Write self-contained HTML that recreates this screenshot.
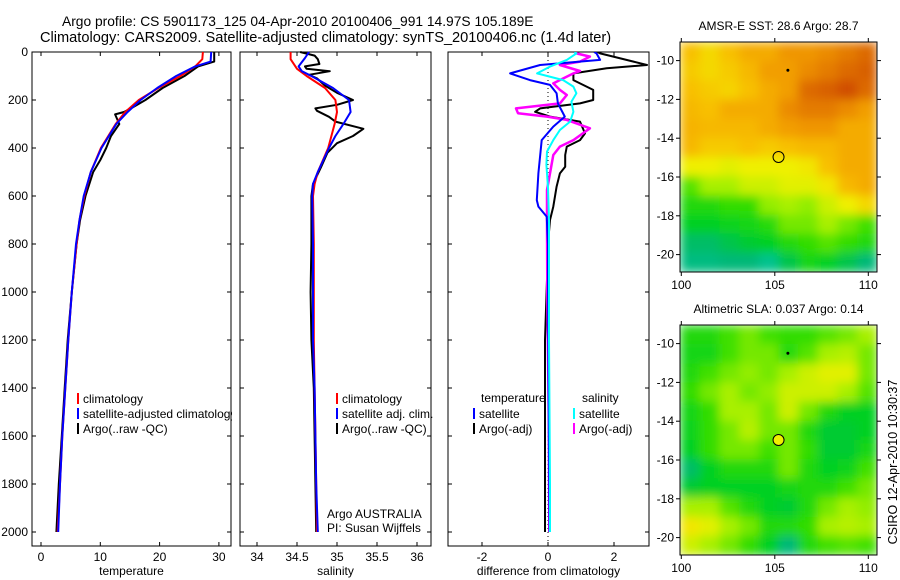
<!DOCTYPE html>
<html><head><meta charset="utf-8"><style>
html,body{margin:0;padding:0;background:#fff;}
svg{display:block;font-family:"Liberation Sans",sans-serif;}
</style></head><body>
<svg id="fig" width="900" height="580" viewBox="0 0 900 580" xmlns="http://www.w3.org/2000/svg">
<defs>
<filter id="blur" x="0" y="0" width="1" height="1"><feGaussianBlur stdDeviation="5" edgeMode="duplicate"/></filter>
<clipPath id="cm1"><rect x="680" y="42" width="197" height="230"/></clipPath>
<clipPath id="cm2"><rect x="680" y="325" width="197" height="230"/></clipPath>
</defs>
<text x="62" y="26" font-size="13.8">Argo profile: CS 5901173_125 04-Apr-2010 20100406_991 14.97S 105.189E</text>
<text x="40" y="42" font-size="14.6">Climatology: CARS2009. Satellite-adjusted climatology: synTS_20100406.nc (1.4d later)</text>
<g id="g1"></g>
<g id="g2"></g>
<g id="g3"></g>
<g id="g4"></g>
<g id="g5"></g>
<text transform="translate(897,462) rotate(-90)" text-anchor="middle" font-size="12.5">CSIRO 12-Apr-2010 10:30:37</text>
</svg>
<script>
// ---- data ----
const depthTicks=[0,200,400,600,800,1000,1200,1400,1600,1800,2000];
const tempTicks=[0,10,20,30];
const salTicks=[34,34.5,35,35.5,36];
const salTickLabels=["34","34.5","35","35.5","36"];
const diffTicks=[-2,0,2];
const lonTicks=[100,105,110];
const latTicks=[-10,-12,-14,-16,-18,-20];

const tClimDepth=[0,30,60,100,150,200,250,300,400,500,600,700,800,1000,1200,1400,1600,1800,2000];
const tClimVal=[27.3,27.2,26,23.5,19.8,16.5,14.2,12.6,10.1,8.4,7.3,6.5,6,5.2,4.6,4.1,3.6,3.2,2.8];
const tSatDepth=[0,40,60,100,150,200,250,300,400,500,600,700,800,1000,1200,1400,1600,1800,2000];
const tSatVal=[28.7,28.6,26,22.8,19.6,16.8,14.6,12.7,10.2,8.4,7.2,6.5,5.9,5.2,4.6,4.1,3.6,3.2,2.9];
const tArgoDepth=[0,40,60,100,150,200,230,250,260,300,350,400,450,500,600,700,800,1000,1200,1400,1600,1800,2000];
const tArgoVal=[29.2,29.2,26.5,24.2,20.5,17.6,15.5,14,12.5,13.2,11.8,11,10,8.8,7.5,6.6,6,5.2,4.5,4,3.5,3,2.6];

const sClimDepth=[0,30,70,100,150,200,250,300,400,500,550,600,800,1000,1200,1400,1600,1800,2000];
const sClimVal=[34.42,34.42,34.5,34.62,34.85,34.98,35,34.97,34.89,34.76,34.72,34.7,34.71,34.71,34.71,34.72,34.73,34.74,34.75];
const sSatDepth=[0,25,60,80,100,150,200,250,300,350,400,500,550,600,800,1000,1200,1400,1600,1800,2000];
const sSatVal=[34.65,34.6,34.52,34.56,34.68,34.95,35.15,35.17,35.08,34.98,34.9,34.76,34.7,34.69,34.7,34.7,34.7,34.72,34.73,34.74,34.76];
const sArgoDepth=[0,15,30,50,60,70,80,95,110,140,170,200,220,235,245,270,290,320,350,380,420,480,550,600,800,1000,1200,1400,1600,1800,2000];
const sArgoVal=[34.54,34.72,34.76,34.78,34.6,34.62,34.91,34.65,34.75,34.85,35.0,35.2,35.0,34.73,34.75,34.9,34.98,35.33,35.2,35.0,34.88,34.8,34.7,34.68,34.68,34.67,34.68,34.71,34.72,34.73,34.74];

const dTSatDepth=[0,6,33,54,89,117,137,172,214,269,311,367,505,617,644,686,800,1000,1500,2000];
const dTSatVal=[1.4,1.47,1.58,-0.24,-1.15,-0.55,0.06,0.26,0.3,0.51,0.16,-0.19,-0.29,-0.34,-0.29,-0.04,0,0,0.02,0.05];
const dTArgoDepth=[0,6,19,40,54,68,89,117,158,200,214,235,249,269,290,339,367,394,429,478,506,561,644,700,783,1200,2000];
const dTArgoVal=[1.5,1.58,1.98,2.59,3.0,1.78,0.77,0.77,1.37,1.37,0.97,-0.24,-0.39,0.06,0.97,1.12,0.97,0.57,0.52,0.52,0.36,0.26,0.16,0.06,0.01,-0.09,-0.09];
const dSSatDepth=[0,6,33,61,89,117,144,172,207,249,290,325,367,415,470,564,700,1200,1800,2000];
const dSSatVal=[0.8,0.86,0.57,0.06,-0.33,0.46,0.77,0.86,0.71,0.77,0.67,0.36,0.16,-0.03,-0.05,0,0.03,0.03,0.06,0.06];
const dSArgoDepth=[0,6,19,40,54,79,89,131,158,179,214,235,255,269,283,318,367,394,429,506,575,700,1000,1500,2000];
const dSArgoVal=[0.8,0.86,1.27,0.97,0.36,0.97,0.77,0.16,0.36,0.57,0.36,-0.97,-0.91,-0.03,0.57,1.27,0.77,0.36,0.16,0.06,-0.03,-0.03,-0.02,0.02,0.04];

const sstGrid=[
[0.70,0.65,0.70,0.75,0.75,0.80,0.80,0.82,0.85,0.88],
[0.68,0.65,0.68,0.72,0.78,0.78,0.82,0.85,0.88,0.90],
[0.70,0.68,0.66,0.70,0.75,0.78,0.88,0.90,0.92,0.88],
[0.72,0.70,0.75,0.75,0.75,0.82,0.85,0.85,0.82,0.78],
[0.73,0.72,0.72,0.72,0.75,0.78,0.80,0.80,0.75,0.75],
[0.72,0.68,0.68,0.70,0.68,0.70,0.72,0.72,0.75,0.75],
[0.60,0.60,0.58,0.60,0.60,0.60,0.62,0.70,0.75,0.75],
[0.42,0.50,0.50,0.55,0.55,0.58,0.58,0.62,0.72,0.75],
[0.35,0.35,0.38,0.38,0.48,0.50,0.48,0.55,0.60,0.65],
[0.30,0.30,0.32,0.33,0.36,0.45,0.45,0.50,0.45,0.40],
[0.22,0.22,0.25,0.28,0.30,0.35,0.38,0.42,0.38,0.35],
[0.18,0.18,0.20,0.20,0.15,0.25,0.33,0.30,0.25,0.20]];
const slaGrid=[
[0.35,0.35,0.40,0.45,0.40,0.38,0.38,0.42,0.45,0.50],
[0.33,0.33,0.40,0.45,0.45,0.36,0.42,0.50,0.52,0.45],
[0.35,0.40,0.45,0.48,0.45,0.50,0.55,0.58,0.58,0.45],
[0.38,0.45,0.50,0.45,0.48,0.55,0.55,0.55,0.50,0.42],
[0.33,0.38,0.50,0.50,0.45,0.55,0.45,0.35,0.30,0.30],
[0.32,0.38,0.45,0.52,0.45,0.45,0.35,0.28,0.28,0.30],
[0.30,0.38,0.45,0.45,0.40,0.45,0.38,0.28,0.28,0.33],
[0.22,0.30,0.35,0.35,0.35,0.45,0.35,0.30,0.32,0.40],
[0.28,0.30,0.30,0.30,0.30,0.33,0.35,0.35,0.40,0.45],
[0.50,0.50,0.42,0.35,0.30,0.28,0.35,0.45,0.50,0.48],
[0.62,0.58,0.50,0.45,0.35,0.35,0.38,0.50,0.52,0.50],
[0.55,0.50,0.45,0.38,0.30,0.20,0.35,0.40,0.42,0.40]];
const floatLon=[105.2];
const floatLat=[-14.97];

// ---- helpers ----
const NS="http://www.w3.org/2000/svg";
function mk(tag,attrs,parent){const e=document.createElementNS(NS,tag);for(const k in attrs)e.setAttribute(k,attrs[k]);parent.appendChild(e);return e;}
const PT=52,PB=546;
const yD=d=>PT+d*0.24;

function panel(g,x0,x1,xs,ticks,labels,xlabel,labelNum){
  for(let i=0;i<ticks.length;i++){
    const x=xs(ticks[i]);
    const t=mk('line',{x1:x,x2:x,y1:PB,y2:PB-4,stroke:'#000'},g);
    
    
    mk('line',{x1:x,x2:x,y1:PT,y2:PT+4,stroke:'#000'},g);
    const tx=mk('text',{x:x,y:PB+15,'text-anchor':'middle','font-size':12},g);
    tx.textContent=labels[i];
    
    
  }
  for(const d of depthTicks){
    mk('line',{x1:x0,x2:x0+4,y1:yD(d),y2:yD(d),stroke:'#000'},g);
    mk('line',{x1:x1,x2:x1-4,y1:yD(d),y2:yD(d),stroke:'#000'},g);
    if(labelNum){
      const tx=mk('text',{x:x0-4,y:yD(d)+4,'text-anchor':'end','font-size':12},g);
      tx.textContent=d;
      
      
    }
  }
  const fr=mk('rect',{x:x0,y:PT,width:x1-x0,height:PB-PT,fill:'none',stroke:'#000'},g);
  
  
  const xl=mk('text',{x:(x0+x1)/2,y:575,'text-anchor':'middle','font-size':12},g);
  xl.textContent=xlabel;
  
  
}
function series(g,depths,vals,xs,color,w,name,clip){
  let pts=depths.map((d,i)=>xs(vals[i]).toFixed(1)+','+yD(d).toFixed(1)).join(' ');
  const p=mk('polyline',{points:pts,fill:'none',stroke:color,'stroke-width':w,'stroke-linejoin':'round'},g);
  if(clip)p.setAttribute('clip-path','url(#'+clip+')');
  
  
}
function legend(g,x,y,color,label){
  mk('rect',{x:x,y:y-9,width:2,height:11,fill:color},g);
  const t=mk('text',{x:x+6,y:y+1,'font-size':12},g);
  t.textContent=label;
  
  
}

// temperature
const g1=document.getElementById('g1');
const xT=v=>41+v*5.93;
panel(g1,32,231,xT,tempTicks,tempTicks.map(String),'temperature',true);
series(g1,tArgoDepth,tArgoVal,xT,'#000',2,'argo-temperature-line');
series(g1,tClimDepth,tClimVal,xT,'#f00',2,'climatology-temperature-line');
series(g1,tSatDepth,tSatVal,xT,'#00f',2,'satellite-temperature-line');
legend(g1,77,402,'#f00','climatology');
legend(g1,77,417,'#00f','satellite-adjusted climatology');
legend(g1,77,432,'#000','Argo(..raw -QC)');
mk('rect',{x:232,y:400,width:7,height:24,fill:'#fff'},g1);

// salinity
const g2=document.getElementById('g2');
const xS=v=>257+(v-34)*80;
panel(g2,240,431,xS,salTicks,salTickLabels,'salinity',false);
series(g2,sArgoDepth,sArgoVal,xS,'#000',2,'argo-salinity-line');
series(g2,sClimDepth,sClimVal,xS,'#f00',2,'climatology-salinity-line');
series(g2,sSatDepth,sSatVal,xS,'#00f',2,'satellite-salinity-line');
legend(g2,336,402,'#f00','climatology');
legend(g2,336,417,'#00f','satellite adj. clim.');
legend(g2,336,432,'#000','Argo(..raw -QC)');
const n1=mk('text',{x:327,y:518,'font-size':12},g2);n1.textContent='Argo AUSTRALIA';


const n2=mk('text',{x:327,y:532,'font-size':12},g2);n2.textContent='PI: Susan Wijffels';



// difference
const g3=document.getElementById('g3');
const defs=document.querySelector('defs');
const cp=mk('clipPath',{id:'c3'},defs);mk('rect',{x:448,y:PT,width:201,height:PB-PT},cp);
const xDf=v=>548+v*33;
panel(g3,448,649,xDf,diffTicks,diffTicks.map(String),'difference from climatology',false);
mk('line',{x1:xDf(0),x2:xDf(0),y1:PT,y2:PB,stroke:'#000','stroke-dasharray':'1,3'},g3);
series(g3,dTArgoDepth,dTArgoVal,xDf,'#000',2,'argo-temp-diff-line','c3');
series(g3,dSArgoDepth,dSArgoVal,xDf,'#f0f',2.5,'argo-sal-diff-line','c3');
series(g3,dTSatDepth,dTSatVal,xDf,'#00f',2,'satellite-temp-diff-line','c3');
series(g3,dSSatDepth,dSSatVal,xDf,'#0ff',2,'satellite-sal-diff-line','c3');
const lt=mk('text',{x:481,y:402,'font-size':12},g3);lt.textContent='temperature';


const ls=mk('text',{x:582,y:402,'font-size':12},g3);ls.textContent='salinity';


legend(g3,473,417,'#00f','satellite');
legend(g3,473,432,'#000','Argo(-adj)');
legend(g3,573,417,'#0ff','satellite');
legend(g3,573,432,'#f0f','Argo(-adj)');

// maps
const stops=[[0,[0,224,208]],[0.2,[0,184,120]],[0.3,[0,208,32]],[0.4,[64,224,0]],[0.5,[168,240,0]],[0.6,[240,240,0]],[0.7,[248,192,0]],[0.8,[240,150,0]],[0.9,[216,96,0]],[1,[176,0,0]]];
function cmap(v){for(let i=1;i<stops.length;i++){if(v<=stops[i][0]){const a=stops[i-1],b=stops[i],f=(v-a[0])/(b[0]-a[0]);return 'rgb('+a[1].map((c,k)=>Math.round(c+(b[1][k]-c)*f)).join(',')+')';}}return 'rgb(176,0,0)';}
function map(g,top,grid,title,filled,clipId){
  const L=680,R=877,B=top+230;
  const xL=lon=>681.3+(lon-100)*18.7;
  const yL=lat=>top+18.6+(-10-lat)*19.4;
  const rows=grid.length,cols=grid[0].length;
  const cw=(R-L)/cols,ch=(B-top)/rows;
  const cg=mk('g',{'clip-path':'url(#'+clipId+')'},g);
  const bg=mk('g',{filter:'url(#blur)'},cg);
  for(let r=0;r<rows;r++)for(let c=0;c<cols;c++){
    const cell=mk('rect',{x:L+c*cw,y:top+r*ch,width:cw+0.6,height:ch+0.6,fill:cmap(grid[r][c])},bg);
    
    
  }
  mk('rect',{x:L,y:top,width:R-L,height:B-top,fill:'none',stroke:'#000'},g);
  for(const lo of lonTicks){
    mk('line',{x1:xL(lo),x2:xL(lo),y1:B,y2:B+4,stroke:'#000'},g);
    mk('line',{x1:xL(lo),x2:xL(lo),y1:top,y2:top-4,stroke:'#000'},g);
    const t=mk('text',{x:xL(lo),y:B+17,'text-anchor':'middle','font-size':12},g);t.textContent=lo;
    
    
  }
  for(const la of latTicks){
    mk('line',{x1:L,x2:L-4,y1:yL(la),y2:yL(la),stroke:'#000'},g);
    mk('line',{x1:R,x2:R+4,y1:yL(la),y2:yL(la),stroke:'#000'},g);
    const t=mk('text',{x:L-6,y:yL(la)+4,'text-anchor':'end','font-size':12},g);t.textContent=la;
    
    
  }
  const tt=mk('text',{x:(L+R)/2,y:top-12,'text-anchor':'middle','font-size':12},g);tt.textContent=title;
  
  
  const m=mk('circle',{cx:xL(floatLon[0]),cy:yL(floatLat[0]),r:5.5,fill:filled?'#f0f000':'none',stroke:'#000'},g);
  
  
  mk('circle',{cx:xL(105.7),cy:yL(-10.5),r:1.5,fill:'#000'},g);
}
map(document.getElementById('g4'),42,sstGrid,'AMSR-E SST: 28.6 Argo: 28.7',false,'cm1');
map(document.getElementById('g5'),325,slaGrid,'Altimetric SLA: 0.037 Argo: 0.14',true,'cm2');
</script>
</body></html>
